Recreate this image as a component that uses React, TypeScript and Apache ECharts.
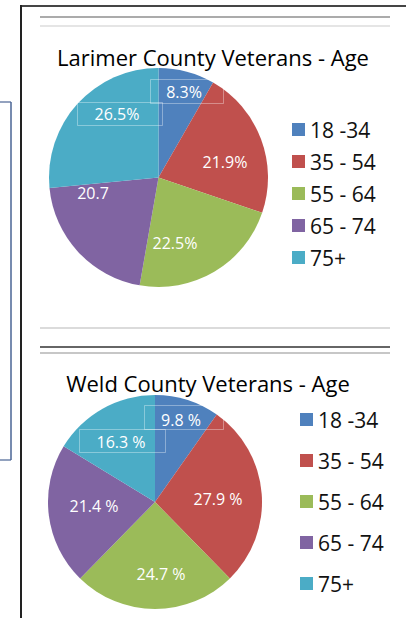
import React, { useEffect, useRef } from "react";
import * as echarts from "echarts";

const categories = ["18 -34", "35 - 54", "55 - 64", "65 - 74", "75+"];
const colors = ["#4F81BD", "#C0504D", "#9BBB59", "#8064A2", "#4BACC6"];

const larimerTitle = "Larimer County Veterans - Age";
const larimerValues = [8.3, 21.9, 22.5, 20.7, 26.5];
const larimerLabels = ["8.3%", "21.9%", "22.5%", "20.7", "26.5%"];

const weldTitle = "Weld County Veterans - Age";
const weldValues = [9.8, 27.9, 24.7, 21.4, 16.3];
const weldLabels = ["9.8 %", "27.9 %", "24.7 %", "21.4 %", "16.3 %"];

// label anchor positions (layout only)
const larimerLabelPos = [
  [184, 92],
  [225, 162],
  [175, 243],
  [93, 193],
  [117, 114],
];
const weldLabelPos = [
  [181, 420],
  [218, 499],
  [161, 574],
  [94, 506],
  [121, 442],
];

const FONT = "'Open Sans', 'Noto Sans', sans-serif";

export default function App() {
  const ref = useRef<HTMLDivElement>(null);
  useEffect(() => {
    if (!ref.current) return;
    const chart = echarts.init(ref.current, undefined, { renderer: "svg" });

    const mkData = (vals: number[], labels: string[]) =>
      vals.map((v, i) => ({ name: categories[i], value: v, label: { formatter: labels[i] } }));

    const line = (x1: number, y1: number, x2: number, y2: number, stroke: string, w: number) => ({
      type: "line",
      shape: { x1, y1, x2, y2 },
      style: { stroke, lineWidth: w },
      silent: true,
    });
    const box = (x: number, y: number, w: number, h: number) => ({
      type: "rect",
      shape: { x: x + 0.5, y: y + 0.5, width: w, height: h },
      style: { fill: "none", stroke: "rgba(255,255,255,0.35)", lineWidth: 1 },
      z: 100,
      silent: true,
    });

    const pieBase = {
      type: "pie",
      startAngle: 90,
      clockwise: true,
      avoidLabelOverlap: false,
      label: {
        show: true,
        position: "inside",
        color: "#ffffff",
        fontSize: 16,
        fontFamily: FONT,
      },
      labelLine: { show: false },
      itemStyle: { borderWidth: 0 },
      emphasis: { disabled: true },
    };

    const legendBase = {
      orient: "vertical",
      itemWidth: 13,
      itemHeight: 13,
      icon: "rect",
      padding: 0,
      selectedMode: false,
      textStyle: { fontSize: 21, lineHeight: 21, color: "#111", fontFamily: FONT },
      data: categories,
    };

    const titleStyle = {
      fill: "#000",
      fontSize: 22,
      fontFamily: FONT,
      textAlign: "center",
      textVerticalAlign: "middle",
    };

    chart.setOption({
      animation: false,
      color: colors,
      legend: [
        { ...legendBase, left: 292, top: 119, itemGap: 11 },
        { ...legendBase, left: 300, top: 409, itemGap: 20 },
      ],
      series: [
        {
          ...pieBase,
          name: "Larimer",
          center: [158.5, 177.5],
          radius: [0, 109.5],
          data: mkData(larimerValues, larimerLabels),
          labelLayout: (p: any) => ({
            x: larimerLabelPos[p.dataIndex][0],
            y: larimerLabelPos[p.dataIndex][1],
            align: "center",
            verticalAlign: "middle",
          }),
        },
        {
          ...pieBase,
          name: "Weld",
          center: [155, 502],
          radius: [0, 107],
          data: mkData(weldValues, weldLabels),
          labelLayout: (p: any) => ({
            x: weldLabelPos[p.dataIndex][0],
            y: weldLabelPos[p.dataIndex][1],
            align: "center",
            verticalAlign: "middle",
          }),
        },
      ],
      graphic: [
        // outer frame
        line(20, 6, 406, 6, "#454545", 2),
        line(21, 5, 21, 618, "#222222", 2),
        // left partial box
        line(0, 102, 11, 102, "#4a6494", 1.2),
        line(11, 102, 11, 460, "#4a6494", 1.5),
        line(0, 460, 11, 460, "#4a6494", 1.2),
        // top rules
        line(40, 17, 390, 17, "#8f8f8f", 1.5),
        line(40, 26, 390, 26, "#cccccc", 1.2),
        // middle rules
        line(40, 328, 390, 328, "#b8b8b8", 1.2),
        line(40, 347, 390, 347, "#333333", 1.5),
        line(40, 353, 390, 353, "#8f8f8f", 1.2),
        // titles
        { type: "text", x: 213, y: 57, style: { ...titleStyle, text: larimerTitle } },
        { type: "text", x: 208, y: 383, style: { ...titleStyle, text: weldTitle } },
        // faint text-box frames around labels
        box(150, 79, 73, 24),
        box(77, 102, 85, 23),
        box(144, 405, 79, 24),
        box(79, 429, 86, 23),
      ],
    });
    return () => chart.dispose();
  }, []);
  return (
    <div
      ref={ref}
      style={{ position: "absolute", left: 0, top: 0, width: 406, height: 618, background: "#fff" }}
    />
  );
}
